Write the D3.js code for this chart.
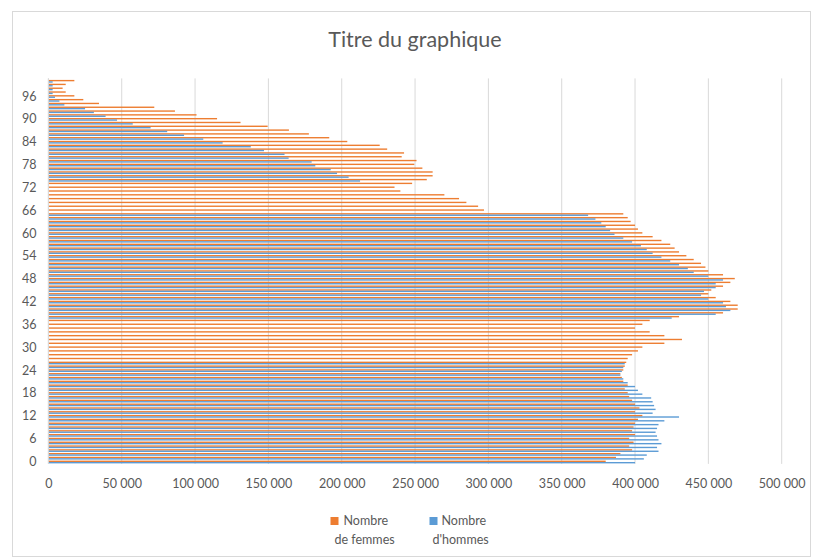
<!DOCTYPE html>
<html><head><meta charset="utf-8">
<script src="https://cdn.jsdelivr.net/npm/d3@7"></script>
<style>body{margin:0;background:#fff;} svg{display:block;font-family:Lato,"Open Sans",sans-serif;}</style>
</head><body><svg id="c" width="814" height="559"></svg>
<script>
const title = "Titre du graphique";
const ages = d3.range(0, 101);
const seriesNames = ["Nombre de femmes", "Nombre d'hommes"];
const seriesColors = ["#ED7D31", "#5B9BD5"];
const femmes = [
 380000,387000,390000,398000,396000,399000,396000,400000,398000,399000,
 400000,402000,405000,400000,403000,400000,398000,396000,395000,393000,
 395000,392000,391000,390000,392000,393000,394000,395000,398000,402000,
 405000,420000,432000,420000,410000,400000,405000,410000,430000,460000,
 470000,470000,465000,455000,450000,452000,460000,465000,468000,460000,
 450000,448000,445000,440000,435000,430000,427000,424000,418000,412000,
 405000,402000,400000,397000,395000,392000,297000,293000,285000,280000,
 270000,240000,236000,248000,258000,262000,262000,255000,249500,251000,
 240900,242500,231000,225900,203800,191500,177600,164000,149500,131000,
 115000,101000,86300,72200,34500,23800,17700,11800,9700,11800,17700
];
const hommes = [
 400000,406000,408000,416000,415000,418000,416000,415000,414000,415000,
 416000,420000,430000,412000,414000,413000,412000,411000,405000,402000,
 400000,395000,392000,390000,391000,392000,393000,null,null,null,
 null,null,null,null,null,null,null,null,425000,455000,
 465000,462000,460000,450000,445000,447000,455000,455000,460000,450000,
 440000,436000,430000,424000,418000,412000,408000,404000,398000,392000,
 386000,383000,380000,377000,373000,368000,null,null,null,null,
 null,null,null,null,212500,204700,196800,192500,182000,179500,
 163800,161000,147000,138000,118800,105600,92500,81000,69700,57500,
 46800,39000,31000,25000,10900,7500,4500,2900,2900,2900,2900
];
const xTicks = d3.range(0, 500001, 50000);
const yTickAges = d3.range(0, 97, 6);

const svg = d3.select("#c");
const plot = {left: 48.4, right: 781.7, top: 79.4, bottom: 463.9};

svg.append("rect").attr("x", 12.5).attr("y", 11.5).attr("width", 798).attr("height", 545)
  .attr("fill", "#fff").attr("stroke", "#d9d9d9");

const x = d3.scaleLinear().domain([0, 500000]).range([plot.left, plot.right]);
const y = d3.scaleBand().domain(ages).range([plot.bottom, plot.top]).paddingInner(0.27).paddingOuter(0.135);
const sub = d3.scaleBand().domain([0, 1]).range([0, y.bandwidth()]);

const loc = d3.formatLocale({decimal: ",", thousands: "\u00a0", grouping: [3], currency: ["", " €"]});
const fmt = loc.format(",d");

// gridlines
svg.append("g").selectAll("line").data(xTicks).join("line")
  .attr("x1", d => x(d)).attr("x2", d => x(d))
  .attr("y1", plot.top - 1).attr("y2", plot.bottom)
  .attr("stroke", "#d9d9d9").attr("stroke-width", 1);

// bars
const rows = ages.map((a, i) => ({age: a, vals: [femmes[i], hommes[i]]}));
const g = svg.append("g");
rows.forEach(r => {
  r.vals.forEach((v, k) => {
    if (v == null) return;
    g.append("rect")
      .attr("x", x(0))
      .attr("y", y(r.age) + sub(k))
      .attr("width", x(v) - x(0))
      .attr("height", sub.bandwidth())
      .attr("fill", seriesColors[k]);
  });
});

// y axis line
svg.append("line").attr("x1", x(0)).attr("x2", x(0)).attr("y1", plot.top - 1).attr("y2", plot.bottom)
  .attr("stroke", "#d9d9d9");

// x axis labels
const xAxis = d3.axisBottom(x).tickValues(xTicks).tickSize(0).tickPadding(0).tickFormat(d => fmt(d));
const xa = svg.append("g").attr("transform", `translate(0,${plot.bottom + 15})`).call(xAxis);
xa.select(".domain").remove();
xa.selectAll("text").attr("fill", "#595959").attr("font-size", 12.5).attr("font-family", "Lato,'Open Sans',sans-serif");

// y axis labels
const yAxis = d3.axisLeft(y).tickValues(yTickAges).tickSize(0).tickPadding(12);
const ya = svg.append("g").attr("transform", `translate(${plot.left},0)`).call(yAxis);
ya.select(".domain").remove();
ya.selectAll("text").attr("fill", "#595959").attr("font-size", 12.5).attr("font-family", "Lato,'Open Sans',sans-serif");

// title
svg.append("text").attr("x", 415).attr("y", 47).attr("text-anchor", "middle")
  .attr("fill", "#595959").attr("font-size", 21.5).attr("font-family", "Lato,'Open Sans',sans-serif")
  .text(title);

// legend
const legend = [
  {lines: ["Nombre", "de femmes"], sx: 330.5, tx: 343.5, color: seriesColors[0]},
  {lines: ["Nombre", "d'hommes"], sx: 429.5, tx: 441.5, color: seriesColors[1]}
];
const lg = svg.append("g");
legend.forEach(l => {
  lg.append("rect").attr("x", l.sx).attr("y", 517).attr("width", 8).attr("height", 8).attr("fill", l.color);
  const t = lg.append("text").attr("x", l.tx).attr("y", 524.5).attr("fill", "#595959")
    .attr("font-size", 12.5);
  l.lines.forEach((s, i) => t.append("tspan").attr("x", i === 0 ? l.tx : l.tx - 9).attr("dy", i === 0 ? 0 : 19).text(s));
});
</script></body></html>
